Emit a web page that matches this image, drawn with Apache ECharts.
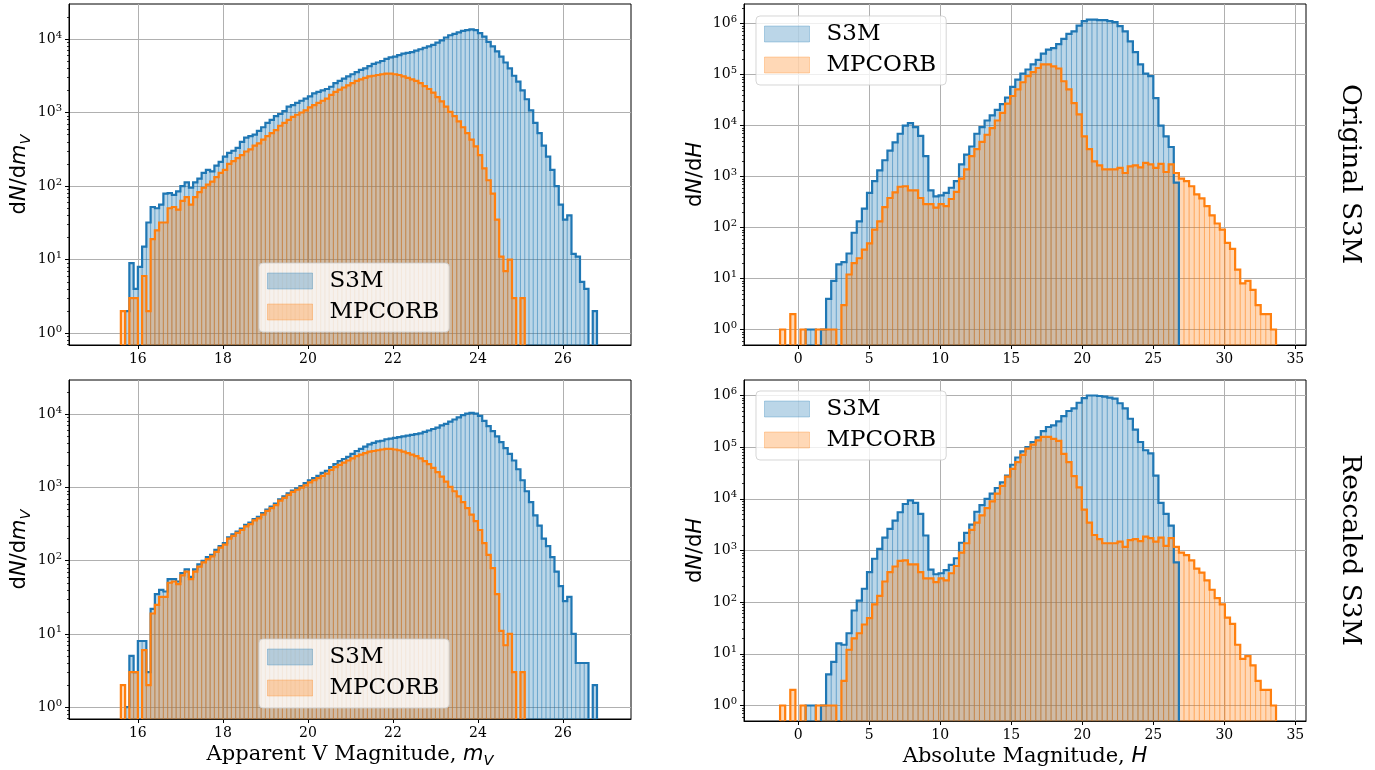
<!DOCTYPE html>
<html>
<head>
<meta charset="utf-8">
<script src="https://cdn.jsdelivr.net/npm/echarts@6/dist/echarts.min.js"></script>
<style>html,body{margin:0;padding:0;background:#fff}#c{width:1375px;height:770px}</style>
</head>
<body>
<div id="c"></div>
<script>
// ---------------- data ----------------
// Apparent V magnitude histograms: bins of 0.1 mag, first bin starts at 15.6
const vmagBinStart = 15.6;
const vmagBinWidth = 0.1;
const vmagS3MOriginal = [
  0,2,9,4,8,15,32,52,50,56,
  79,80,76,85,100,112,95,112,126,151,
  166,158,190,214,251,282,302,331,398,457,
  479,501,562,631,724,794,891,955,1047,1202,
  1259,1349,1445,1549,1660,1820,1905,1995,2089,2239,
  2512,2692,2884,3090,3311,3548,3802,3981,4266,4571,
  4786,5012,5370,5623,5754,6026,6310,6457,6607,6918,
  7244,7586,7943,8318,8913,9550,10470,11220,11750,12300,
  12880,13180,13490,13180,12020,10720,9120,7943,6761,5754,
  4786,3981,3162,2630,1995,1514,1072,724,525,355,
  251,166,100,56,35,40,12,11,5,4,
  0,2
];
const vmagMPCORB = [
  2,0,3,3,0,6,2,19,25,32,
  32,50,52,48,63,71,56,71,83,95,
  105,115,132,151,166,200,219,240,263,295,
  316,355,380,427,479,525,575,661,724,794,
  871,933,1000,1072,1175,1259,1349,1445,1549,1738,
  1905,2042,2188,2344,2512,2692,2818,2951,3090,3162,
  3236,3311,3388,3388,3311,3236,3090,2951,2818,2692,
  2512,2291,2089,1862,1622,1413,1202,1023,891,759,
  631,525,427,347,263,174,120,79,35,11,
  7,10,3,0,3,0,0,0,0,0,
  0,0,0,0,0,0,0,0,0,0,
  0,0
];
const vmagS3MRescaled = [
  0,1,5,3,8,8,3,22,35,40,
  38,56,56,52,68,76,60,76,89,100,
  112,120,141,158,174,209,229,251,275,309,
  331,372,398,447,501,550,603,692,759,832,
  912,977,1047,1148,1259,1349,1445,1585,1698,1905,
  2089,2291,2455,2630,2884,3162,3388,3631,3890,4074,
  4266,4365,4571,4677,4786,4898,5012,5129,5248,5370,
  5495,5754,6026,6310,6607,7079,7413,7943,8511,9120,
  9772,10230,10470,10230,9550,8128,6918,5888,5012,4169,
  3467,2884,2344,1778,1259,891,631,417,302,200,
  158,112,71,45,28,32,10,4,4,4,
  0,2
];

// Absolute magnitude histograms: bins of 0.36 mag, first bin starts at -2.0
const hBinStart = -2.0;
const hBinWidth = 0.36;
const hS3MOriginal = [
  0,0,0,0,0,0,0,1,1,0,
  1,4,9,19,21,31,79,132,234,479,
  813,1318,2089,3236,4677,6918,10000,11220,9333,6310,
  2512,537,407,427,479,603,813,1738,2692,3890,
  6918,9333,12590,15850,20420,26300,35480,57540,79430,104700,
  125900,158500,195000,257000,309000,331000,398000,501000,631000,708000,
  912000,1122000,1202000,1202000,1175000,1175000,1122000,1072000,891000,708000,
  447000,275000,158500,104700,93300,34700,10000,6166,3802,759,
  0,0,0,0,0,0,0,0,0,0,
  0,0,0,0,0,0,0,0,0,0
];
const hMPCORB = [
  0,0,1,0,2,0,1,0,0,1,
  1,1,1,0,3,12,20,25,37,49,
  91,132,251,380,490,631,646,537,537,380,
  288,288,245,288,263,363,501,912,1380,2512,
  3467,4786,6607,8913,12590,17780,26920,38020,51290,70790,
  93300,112200,134900,158500,158500,144500,131800,74130,51290,27540,
  16600,6166,3467,1995,1660,1380,1380,1380,1479,1175,
  1585,1660,1514,1862,1738,1479,1778,1230,1738,1175,
  912,813,646,447,372,263,174,120,91,50,
  38,15,8,9,6,3,2,2,1,0
];
const hS3MRescaled = [
  0,0,0,0,0,0,0,1,1,0,
  1,4,7,16,15,25,69,107,182,380,
  692,1072,1778,2630,3802,5495,7943,9333,8318,5129,
  1950,427,347,363,417,525,708,1413,2188,3162,
  5623,7586,10000,12590,16220,20890,28180,45710,63100,83180,
  100000,125900,154900,204200,245500,263000,316200,398100,501200,562300,
  724400,891300,1000000,1000000,977000,955000,912000,870000,707900,562300,
  354800,218800,125900,87100,75860,28180,8318,5129,3020,589,
  0,0,0,0,0,0,0,0,0,0,
  0,0,0,0,0,0,0,0,0,0
];

// tick values
const vmagTicks = [16, 18, 20, 22, 24, 26];
const hTicks = [0, 5, 10, 15, 20, 25, 30, 35];
const countTicksLeft = [1, 10, 100, 1000, 10000];
const countTicksRight = [1, 10, 100, 1000, 10000, 100000, 1000000];
const minorMantissas = [2, 3, 4, 5, 6, 7, 8, 9];

const seriesNames = ['S3M', 'MPCORB'];
const rowTitles = ['Original S3M', 'Rescaled S3M'];

// ---------------- styling ----------------
const BLUE = '#1f77b4', ORANGE = '#ff7f0e';
const BLUE_A = 'rgba(31,119,180,0.3)', ORANGE_A = 'rgba(255,127,14,0.3)';
const SERIF = 'DejaVu Serif', SANS = 'DejaVu Sans';

function minorTicks(lo, hi) {
  const out = [];
  for (let e = -1; e <= 7; e++) {
    minorMantissas.forEach(m => { const v = m * Math.pow(10, e); if (v > lo && v < hi) out.push(v); });
  }
  return out;
}

function barData(counts, start, width) {
  const out = [];
  counts.forEach((c, i) => {
    if (c > 0) {
      const x0 = +(start + i * width).toFixed(4);
      out.push([x0, +(x0 + width).toFixed(4), c]);
    }
  });
  return out;
}

function barSeries(name, counts, start, width, fill, gi) {
  return {
    type: 'custom', name, xAxisIndex: gi, yAxisIndex: 2 * gi,
    itemStyle: { color: fill }, silent: true, z: 2,
    data: barData(counts, start, width), encode: { x: [0, 1], y: 2 },
    renderItem(params, api) {
      const v = api.value(2);
      const p0 = api.coord([api.value(0), v]);
      const p1 = api.coord([api.value(1), v]);
      const cs = params.coordSys;
      const bottom = cs.y + cs.height;
      return {
        type: 'rect',
        shape: { x: p0[0], y: p0[1], width: p1[0] - p0[0], height: bottom - p0[1] },
        style: { fill: fill, stroke: fill, lineWidth: 1 }
      };
    }
  };
}

function stepSeries(name, counts, start, width, color, gi) {
  return {
    type: 'custom', name: name + ' step', xAxisIndex: gi, yAxisIndex: 2 * gi,
    itemStyle: { color }, silent: true, z: 3,
    data: [[start, start + counts.length * width, 1]], encode: { x: [0, 1], y: 2 },
    renderItem(params, api) {
      const cs = params.coordSys;
      const bottom = cs.y + cs.height;
      const runs = [];
      let pts = null;
      for (let i = 0; i < counts.length; i++) {
        const x0 = start + i * width, x1 = x0 + width, c = counts[i];
        if (c > 0) {
          const a = api.coord([x0, c]), b = api.coord([x1, c]);
          if (!pts) pts = [[a[0], bottom]];
          pts.push(a, b);
        } else if (pts) {
          pts.push([pts[pts.length - 1][0], bottom]);
          runs.push(pts); pts = null;
        }
      }
      if (pts) { pts.push([pts[pts.length - 1][0], bottom]); runs.push(pts); }
      return {
        type: 'group',
        children: runs.map(p => ({
          type: 'polyline', shape: { points: p },
          style: { stroke: color, lineWidth: 2.2, fill: null, lineJoin: 'miter' }
        }))
      };
    }
  };
}

const panels = [
  { grid: { left: 69, top: 4, width: 562, height: 341 }, xmin: 14.38, xmax: 27.6, ticks: vmagTicks, split: 6,
    ymin: 0.692, ymax: 29850, yticks: countTicksLeft, s3m: vmagS3MOriginal, mpc: vmagMPCORB, start: vmagBinStart, width: vmagBinWidth,
    yname: '{t|d}{i|N}{t|/d}{i|m}{sub|V}', xname: '', legend: [259, 263] },
  { grid: { left: 744, top: 4, width: 562, height: 341 }, xmin: -3.82, xmax: 35.75, ticks: hTicks, split: 8,
    ymin: 0.4966, ymax: 2427000, yticks: countTicksRight, s3m: hS3MOriginal, mpc: hMPCORB, start: hBinStart, width: hBinWidth,
    yname: '{t|d}{i|N}{t|/d}{i|H}', xname: '', legend: [756, 16] },
  { grid: { left: 69, top: 380, width: 562, height: 341 }, xmin: 14.38, xmax: 27.6, ticks: vmagTicks, split: 6,
    ymin: 0.687, ymax: 29510, yticks: countTicksLeft, s3m: vmagS3MRescaled, mpc: vmagMPCORB, start: vmagBinStart, width: vmagBinWidth,
    yname: '{t|d}{i|N}{t|/d}{i|m}{sub|V}', xname: '{t|Apparent V Magnitude, }{i|m}{sub|V}', legend: [259, 639] },
  { grid: { left: 744, top: 380, width: 562, height: 341 }, xmin: -3.82, xmax: 35.75, ticks: hTicks, split: 8,
    ymin: 0.5012, ymax: 1995000, yticks: countTicksRight, s3m: hS3MRescaled, mpc: hMPCORB, start: hBinStart, width: hBinWidth,
    yname: '{t|d}{i|N}{t|/d}{i|H}', xname: '{t|Absolute Magnitude, }{i|H}', legend: [756, 391] }
];

const grid = [], xAxis = [], yAxis = [], series = [], legend = [];
const splitStyle = { color: '#b0b0b0', width: 1 };
const nameRichX = {
  t: { fontFamily: SERIF, fontSize: 21, color: '#000', lineHeight: 28 },
  i: { fontFamily: SANS, fontStyle: 'italic', fontSize: 21, color: '#000', lineHeight: 28 },
  sub: { fontFamily: SANS, fontStyle: 'italic', fontSize: 14.5, color: '#000', lineHeight: 28, verticalAlign: 'bottom' }
};
const nameRichY = {
  t: { fontFamily: SANS, fontSize: 21, color: '#000', lineHeight: 28 },
  i: { fontFamily: SANS, fontStyle: 'italic', fontSize: 21, color: '#000', lineHeight: 28 },
  sub: { fontFamily: SANS, fontStyle: 'italic', fontSize: 14.5, color: '#000', lineHeight: 28, verticalAlign: 'bottom' }
};

panels.forEach((p, gi) => {
  grid.push(Object.assign({ show: true, borderColor: '#000', borderWidth: 1, backgroundColor: 'transparent' }, p.grid));
  xAxis.push({
    type: 'value', gridIndex: gi, min: p.xmin, max: p.xmax, splitNumber: p.split,
    axisLine: { show: true, onZero: false, lineStyle: { color: '#000', width: 1 } },
    axisTick: { show: true, length: 4, lineStyle: { color: '#000', width: 1 }, customValues: p.ticks },
    axisLabel: { show: true, margin: 7, color: '#000', fontFamily: SERIF, fontSize: 14, customValues: p.ticks },
    splitLine: { show: true, lineStyle: splitStyle },
    name: p.xname, nameLocation: 'middle', nameGap: 22,
    nameTextStyle: { rich: nameRichX }
  });
  yAxis.push({
    type: 'log', logBase: 10, gridIndex: gi, min: p.ymin, max: p.ymax, position: 'left',
    axisLine: { show: true, onZero: false, lineStyle: { color: '#000', width: 1 } },
    axisTick: { show: true, length: 4, lineStyle: { color: '#000', width: 1 }, customValues: p.yticks },
    axisLabel: {
      show: true, margin: 7, customValues: p.yticks,
      formatter: v => '{b|10}{s|' + Math.round(Math.log10(v)) + '}',
      rich: {
        b: { fontFamily: SERIF, fontSize: 14, color: '#000', lineHeight: 18 },
        s: { fontFamily: SERIF, fontSize: 10, color: '#000', lineHeight: 18, verticalAlign: 'top' }
      }
    },
    splitLine: { show: true, lineStyle: splitStyle },
    name: p.yname, nameLocation: 'middle', nameRotate: 90, nameGap: 34,
    nameTextStyle: { rich: nameRichY }
  });
  yAxis.push({
    type: 'log', logBase: 10, gridIndex: gi, min: p.ymin, max: p.ymax, position: 'left',
    axisLine: { show: false, onZero: false }, axisLabel: { show: false }, splitLine: { show: false },
    axisTick: { show: true, length: 2, lineStyle: { color: '#000', width: 0.8 }, customValues: minorTicks(p.ymin, p.ymax) }
  });
  series.push(barSeries(seriesNames[0], p.s3m, p.start, p.width, BLUE_A, gi));
  series.push(barSeries(seriesNames[1], p.mpc, p.start, p.width, ORANGE_A, gi));
  series.push(stepSeries(seriesNames[0], p.s3m, p.start, p.width, BLUE, gi));
  series.push(stepSeries(seriesNames[1], p.mpc, p.start, p.width, ORANGE, gi));
  legend.push({
    left: p.legend[0], top: p.legend[1], orient: 'vertical', selectedMode: false, icon: 'rect',
    itemWidth: 45, itemHeight: 16, itemGap: 5, padding: [5, 10, 7, 8],
    backgroundColor: 'rgba(255,255,255,0.8)', borderColor: 'rgba(204,204,204,0.8)', borderWidth: 1, borderRadius: 4,
    textStyle: { fontFamily: SERIF, fontSize: 23, color: '#000', lineHeight: 26, padding: [0, 0, 0, 12] },
    data: [
      { name: seriesNames[0], itemStyle: { color: BLUE_A, borderColor: BLUE_A, borderWidth: 1 } },
      { name: seriesNames[1], itemStyle: { color: ORANGE_A, borderColor: ORANGE_A, borderWidth: 1 } }
    ]
  });
});

const chart = echarts.init(document.getElementById('c'), null, { renderer: 'canvas', width: 1375, height: 770 });
chart.setOption({
  animation: false,
  backgroundColor: '#fff',
  grid, xAxis, yAxis, series, legend,
  graphic: [
    { type: 'text', x: 1350, y: 174, rotation: -Math.PI / 2,
      style: { text: rowTitles[0], font: '26.5px "DejaVu Serif"', fill: '#000', align: 'center', verticalAlign: 'middle', textAlign: 'center', textVerticalAlign: 'middle' } },
    { type: 'text', x: 1350, y: 550, rotation: -Math.PI / 2,
      style: { text: rowTitles[1], font: '26.5px "DejaVu Serif"', fill: '#000', align: 'center', verticalAlign: 'middle', textAlign: 'center', textVerticalAlign: 'middle' } }
  ]
});
</script>
</body>
</html>
